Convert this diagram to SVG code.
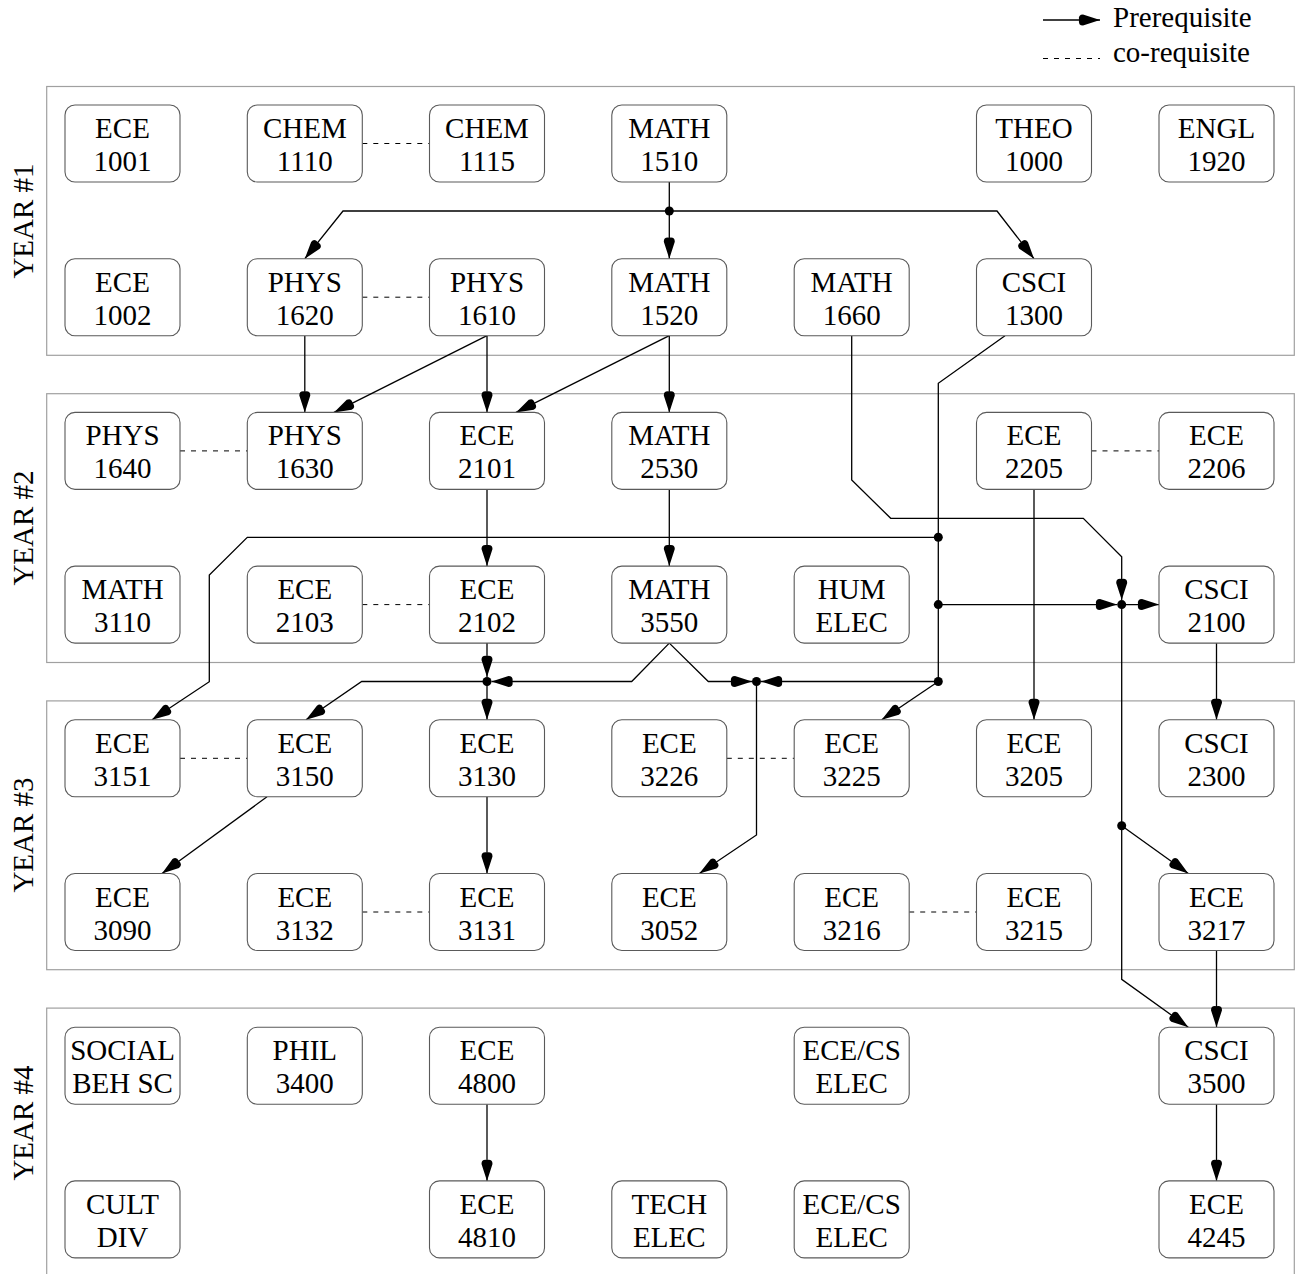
<svg xmlns="http://www.w3.org/2000/svg" width="1297" height="1274" viewBox="0 0 1297 1274">
<style>
.panel{fill:none;stroke:#a0a0a0;stroke-width:1.2}
.box{fill:#fff;stroke:#5a5a5a;stroke-width:1.1}
.t{font-family:"Liberation Serif","Times New Roman",serif;font-size:29px;text-anchor:middle;fill:#000}
.yl{font-family:"Liberation Serif","Times New Roman",serif;font-size:29px;text-anchor:middle;fill:#000}
.lg{font-family:"Liberation Serif","Times New Roman",serif;font-size:29px;fill:#000}
.c{fill:none;stroke:#000;stroke-width:1.3}
.a{fill:none;stroke:#000;stroke-width:1.3;marker-end:url(#ah)}
.d{fill:none;stroke:#000;stroke-width:1;stroke-dasharray:5 6}
.dot{fill:#000}
</style>
<defs>
<marker id="ah" markerUnits="userSpaceOnUse" orient="auto" overflow="visible" markerWidth="30" markerHeight="30" refX="0" refY="0">
<path d="M0,0 L-17,-5.5 Q-22,-5.5 -21,0 Q-22,5.5 -17,5.5 Z" fill="#000"/>
</marker>
</defs>
<rect width="1297" height="1274" fill="#fff"/>

<g id="legend">
<path class="a" d="M1043,20 H1100"/>
<text class="lg" x="1113" y="27">Prerequisite</text>
<path class="d" d="M1043,58.5 H1100"/>
<text class="lg" x="1113" y="61.5">co-requisite</text>
</g>

<g id="panels">
<rect class="panel" x="46.7" y="86.5" width="1247.6" height="268.8"/>
<rect class="panel" x="46.7" y="393.7" width="1247.6" height="268.8"/>
<rect class="panel" x="46.7" y="700.9" width="1247.6" height="268.8"/>
<rect class="panel" x="46.7" y="1008.1" width="1247.6" height="268.8"/>
<text class="yl" transform="translate(33,221) rotate(-90)">YEAR #1</text>
<text class="yl" transform="translate(33,528) rotate(-90)">YEAR #2</text>
<text class="yl" transform="translate(33,835) rotate(-90)">YEAR #3</text>
<text class="yl" transform="translate(33,1123) rotate(-90)">YEAR #4</text>
</g>

<g id="connectors">
<!-- co-requisites -->
<path class="d" d="M362.3,143.5 H429.5"/>
<path class="d" d="M362.3,297.2 H429.5"/>
<path class="d" d="M180,450.9 H247.3"/>
<path class="d" d="M1091.5,450.9 H1159"/>
<path class="d" d="M362.3,604.6 H429.5"/>
<path class="d" d="M180,758.3 H247.3"/>
<path class="d" d="M726.8,758.3 H794.2"/>
<path class="d" d="M362.3,912 H429.5"/>
<path class="d" d="M909.2,912 H976.5"/>

<!-- MATH 1510 -->
<path class="c" d="M669.3,182 V211"/>
<path class="a" d="M669.3,211 V258.7"/>
<path class="a" d="M669.3,211 H343 L304.8,258.7"/>
<path class="a" d="M669.3,211 H997 L1034,258.7"/>
<circle class="dot" cx="669.3" cy="211" r="4.5"/>

<!-- PHYS 1620, PHYS 1610, MATH 1520 -->
<path class="a" d="M304.8,335.7 V412.4"/>
<path class="a" d="M487,335.7 V412.4"/>
<path class="a" d="M487,335.7 L334,412.4"/>
<path class="a" d="M669.3,335.7 V412.4"/>
<path class="a" d="M669.3,335.7 L516,412.4"/>

<!-- MATH 1660 -->
<path class="a" d="M851.7,335.7 V480 L890.7,518.3 H1083.3 L1121.7,556.7 V600"/>

<!-- CSCI 1300 -->
<path class="c" d="M1005,335.7 L938.3,383.3 V681.5"/>
<path class="a" d="M938.3,537.3 H247.3 L209.3,575 V681.7 L152,719.8"/>
<path class="a" d="M938.3,604.6 H1117"/>
<path class="a" d="M938.3,681.5 L881.7,719.8"/>
<path class="a" d="M938.3,681.5 H761"/>
<circle class="dot" cx="938.3" cy="537.3" r="4.5"/>
<circle class="dot" cx="938.3" cy="604.6" r="4.5"/>
<circle class="dot" cx="938.3" cy="681.5" r="4.5"/>

<!-- junction to CSCI 2100 and down -->
<path class="a" d="M1121.7,604.6 H1159"/>
<path class="a" d="M1121.7,604.6 V979.3 L1188.3,1027.2"/>
<path class="a" d="M1121.7,825.7 L1188.3,873.5"/>
<circle class="dot" cx="1121.7" cy="604.6" r="4.5"/>
<circle class="dot" cx="1121.7" cy="825.7" r="4.5"/>

<!-- ECE 2205, CSCI 2100 -->
<path class="a" d="M1034,489.4 V719.8"/>
<path class="a" d="M1216.5,643.1 V719.8"/>

<!-- ECE 2101, MATH 2530 -->
<path class="a" d="M487,489.4 V566.1"/>
<path class="a" d="M669.3,489.4 V566.1"/>

<!-- ECE 2102 -->
<path class="a" d="M487,643.1 V677"/>
<path class="a" d="M487,681.5 V719.8"/>
<path class="a" d="M487,681.5 H361.7 L306,719.8"/>
<circle class="dot" cx="487" cy="681.5" r="4.5"/>

<!-- MATH 3550 -->
<path class="a" d="M669.3,643.1 L631.7,681.5 H491.5"/>
<path class="a" d="M669.3,643.1 L708.3,681.5 H752"/>
<path class="a" d="M756.5,681.5 V835 L699.3,873.5"/>
<circle class="dot" cx="756.5" cy="681.5" r="4.5"/>

<!-- Year 3 -->
<path class="a" d="M267,796.8 L162,873.5"/>
<path class="a" d="M487,796.8 V873.5"/>
<path class="a" d="M1216.5,950.5 V1027.2"/>

<!-- Year 4 -->
<path class="a" d="M487,1104.2 V1180.9"/>
<path class="a" d="M1216.5,1104.2 V1180.9"/>
</g>

<g id="n-ece1001" transform="translate(65,105)"><rect class="box" width="115" height="77" rx="10"/><text class="t" x="57.5" y="33">ECE</text><text class="t" x="57.5" y="66">1001</text></g>
<g id="n-chem1110" transform="translate(247.3,105)"><rect class="box" width="115" height="77" rx="10"/><text class="t" x="57.5" y="33">CHEM</text><text class="t" x="57.5" y="66">1110</text></g>
<g id="n-chem1115" transform="translate(429.5,105)"><rect class="box" width="115" height="77" rx="10"/><text class="t" x="57.5" y="33">CHEM</text><text class="t" x="57.5" y="66">1115</text></g>
<g id="n-math1510" transform="translate(611.8,105)"><rect class="box" width="115" height="77" rx="10"/><text class="t" x="57.5" y="33">MATH</text><text class="t" x="57.5" y="66">1510</text></g>
<g id="n-theo1000" transform="translate(976.5,105)"><rect class="box" width="115" height="77" rx="10"/><text class="t" x="57.5" y="33">THEO</text><text class="t" x="57.5" y="66">1000</text></g>
<g id="n-engl1920" transform="translate(1159,105)"><rect class="box" width="115" height="77" rx="10"/><text class="t" x="57.5" y="33">ENGL</text><text class="t" x="57.5" y="66">1920</text></g>

<g id="n-ece1002" transform="translate(65,258.7)"><rect class="box" width="115" height="77" rx="10"/><text class="t" x="57.5" y="33">ECE</text><text class="t" x="57.5" y="66">1002</text></g>
<g id="n-phys1620" transform="translate(247.3,258.7)"><rect class="box" width="115" height="77" rx="10"/><text class="t" x="57.5" y="33">PHYS</text><text class="t" x="57.5" y="66">1620</text></g>
<g id="n-phys1610" transform="translate(429.5,258.7)"><rect class="box" width="115" height="77" rx="10"/><text class="t" x="57.5" y="33">PHYS</text><text class="t" x="57.5" y="66">1610</text></g>
<g id="n-math1520" transform="translate(611.8,258.7)"><rect class="box" width="115" height="77" rx="10"/><text class="t" x="57.5" y="33">MATH</text><text class="t" x="57.5" y="66">1520</text></g>
<g id="n-math1660" transform="translate(794.2,258.7)"><rect class="box" width="115" height="77" rx="10"/><text class="t" x="57.5" y="33">MATH</text><text class="t" x="57.5" y="66">1660</text></g>
<g id="n-csci1300" transform="translate(976.5,258.7)"><rect class="box" width="115" height="77" rx="10"/><text class="t" x="57.5" y="33">CSCI</text><text class="t" x="57.5" y="66">1300</text></g>

<g id="n-phys1640" transform="translate(65,412.4)"><rect class="box" width="115" height="77" rx="10"/><text class="t" x="57.5" y="33">PHYS</text><text class="t" x="57.5" y="66">1640</text></g>
<g id="n-phys1630" transform="translate(247.3,412.4)"><rect class="box" width="115" height="77" rx="10"/><text class="t" x="57.5" y="33">PHYS</text><text class="t" x="57.5" y="66">1630</text></g>
<g id="n-ece2101" transform="translate(429.5,412.4)"><rect class="box" width="115" height="77" rx="10"/><text class="t" x="57.5" y="33">ECE</text><text class="t" x="57.5" y="66">2101</text></g>
<g id="n-math2530" transform="translate(611.8,412.4)"><rect class="box" width="115" height="77" rx="10"/><text class="t" x="57.5" y="33">MATH</text><text class="t" x="57.5" y="66">2530</text></g>
<g id="n-ece2205" transform="translate(976.5,412.4)"><rect class="box" width="115" height="77" rx="10"/><text class="t" x="57.5" y="33">ECE</text><text class="t" x="57.5" y="66">2205</text></g>
<g id="n-ece2206" transform="translate(1159,412.4)"><rect class="box" width="115" height="77" rx="10"/><text class="t" x="57.5" y="33">ECE</text><text class="t" x="57.5" y="66">2206</text></g>

<g id="n-math3110" transform="translate(65,566.1)"><rect class="box" width="115" height="77" rx="10"/><text class="t" x="57.5" y="33">MATH</text><text class="t" x="57.5" y="66">3110</text></g>
<g id="n-ece2103" transform="translate(247.3,566.1)"><rect class="box" width="115" height="77" rx="10"/><text class="t" x="57.5" y="33">ECE</text><text class="t" x="57.5" y="66">2103</text></g>
<g id="n-ece2102" transform="translate(429.5,566.1)"><rect class="box" width="115" height="77" rx="10"/><text class="t" x="57.5" y="33">ECE</text><text class="t" x="57.5" y="66">2102</text></g>
<g id="n-math3550" transform="translate(611.8,566.1)"><rect class="box" width="115" height="77" rx="10"/><text class="t" x="57.5" y="33">MATH</text><text class="t" x="57.5" y="66">3550</text></g>
<g id="n-humelec" transform="translate(794.2,566.1)"><rect class="box" width="115" height="77" rx="10"/><text class="t" x="57.5" y="33">HUM</text><text class="t" x="57.5" y="66">ELEC</text></g>
<g id="n-csci2100" transform="translate(1159,566.1)"><rect class="box" width="115" height="77" rx="10"/><text class="t" x="57.5" y="33">CSCI</text><text class="t" x="57.5" y="66">2100</text></g>

<g id="n-ece3151" transform="translate(65,719.8)"><rect class="box" width="115" height="77" rx="10"/><text class="t" x="57.5" y="33">ECE</text><text class="t" x="57.5" y="66">3151</text></g>
<g id="n-ece3150" transform="translate(247.3,719.8)"><rect class="box" width="115" height="77" rx="10"/><text class="t" x="57.5" y="33">ECE</text><text class="t" x="57.5" y="66">3150</text></g>
<g id="n-ece3130" transform="translate(429.5,719.8)"><rect class="box" width="115" height="77" rx="10"/><text class="t" x="57.5" y="33">ECE</text><text class="t" x="57.5" y="66">3130</text></g>
<g id="n-ece3226" transform="translate(611.8,719.8)"><rect class="box" width="115" height="77" rx="10"/><text class="t" x="57.5" y="33">ECE</text><text class="t" x="57.5" y="66">3226</text></g>
<g id="n-ece3225" transform="translate(794.2,719.8)"><rect class="box" width="115" height="77" rx="10"/><text class="t" x="57.5" y="33">ECE</text><text class="t" x="57.5" y="66">3225</text></g>
<g id="n-ece3205" transform="translate(976.5,719.8)"><rect class="box" width="115" height="77" rx="10"/><text class="t" x="57.5" y="33">ECE</text><text class="t" x="57.5" y="66">3205</text></g>
<g id="n-csci2300" transform="translate(1159,719.8)"><rect class="box" width="115" height="77" rx="10"/><text class="t" x="57.5" y="33">CSCI</text><text class="t" x="57.5" y="66">2300</text></g>

<g id="n-ece3090" transform="translate(65,873.5)"><rect class="box" width="115" height="77" rx="10"/><text class="t" x="57.5" y="33">ECE</text><text class="t" x="57.5" y="66">3090</text></g>
<g id="n-ece3132" transform="translate(247.3,873.5)"><rect class="box" width="115" height="77" rx="10"/><text class="t" x="57.5" y="33">ECE</text><text class="t" x="57.5" y="66">3132</text></g>
<g id="n-ece3131" transform="translate(429.5,873.5)"><rect class="box" width="115" height="77" rx="10"/><text class="t" x="57.5" y="33">ECE</text><text class="t" x="57.5" y="66">3131</text></g>
<g id="n-ece3052" transform="translate(611.8,873.5)"><rect class="box" width="115" height="77" rx="10"/><text class="t" x="57.5" y="33">ECE</text><text class="t" x="57.5" y="66">3052</text></g>
<g id="n-ece3216" transform="translate(794.2,873.5)"><rect class="box" width="115" height="77" rx="10"/><text class="t" x="57.5" y="33">ECE</text><text class="t" x="57.5" y="66">3216</text></g>
<g id="n-ece3215" transform="translate(976.5,873.5)"><rect class="box" width="115" height="77" rx="10"/><text class="t" x="57.5" y="33">ECE</text><text class="t" x="57.5" y="66">3215</text></g>
<g id="n-ece3217" transform="translate(1159,873.5)"><rect class="box" width="115" height="77" rx="10"/><text class="t" x="57.5" y="33">ECE</text><text class="t" x="57.5" y="66">3217</text></g>

<g id="n-socialbehsc" transform="translate(65,1027.2)"><rect class="box" width="115" height="77" rx="10"/><text class="t" x="57.5" y="33">SOCIAL</text><text class="t" x="57.5" y="66">BEH SC</text></g>
<g id="n-phil3400" transform="translate(247.3,1027.2)"><rect class="box" width="115" height="77" rx="10"/><text class="t" x="57.5" y="33">PHIL</text><text class="t" x="57.5" y="66">3400</text></g>
<g id="n-ece4800" transform="translate(429.5,1027.2)"><rect class="box" width="115" height="77" rx="10"/><text class="t" x="57.5" y="33">ECE</text><text class="t" x="57.5" y="66">4800</text></g>
<g id="n-ececselec1" transform="translate(794.2,1027.2)"><rect class="box" width="115" height="77" rx="10"/><text class="t" x="57.5" y="33">ECE/CS</text><text class="t" x="57.5" y="66">ELEC</text></g>
<g id="n-csci3500" transform="translate(1159,1027.2)"><rect class="box" width="115" height="77" rx="10"/><text class="t" x="57.5" y="33">CSCI</text><text class="t" x="57.5" y="66">3500</text></g>

<g id="n-cultdiv" transform="translate(65,1180.9)"><rect class="box" width="115" height="77" rx="10"/><text class="t" x="57.5" y="33">CULT</text><text class="t" x="57.5" y="66">DIV</text></g>
<g id="n-ece4810" transform="translate(429.5,1180.9)"><rect class="box" width="115" height="77" rx="10"/><text class="t" x="57.5" y="33">ECE</text><text class="t" x="57.5" y="66">4810</text></g>
<g id="n-techelec" transform="translate(611.8,1180.9)"><rect class="box" width="115" height="77" rx="10"/><text class="t" x="57.5" y="33">TECH</text><text class="t" x="57.5" y="66">ELEC</text></g>
<g id="n-ececselec2" transform="translate(794.2,1180.9)"><rect class="box" width="115" height="77" rx="10"/><text class="t" x="57.5" y="33">ECE/CS</text><text class="t" x="57.5" y="66">ELEC</text></g>
<g id="n-ece4245" transform="translate(1159,1180.9)"><rect class="box" width="115" height="77" rx="10"/><text class="t" x="57.5" y="33">ECE</text><text class="t" x="57.5" y="66">4245</text></g>
</svg>
